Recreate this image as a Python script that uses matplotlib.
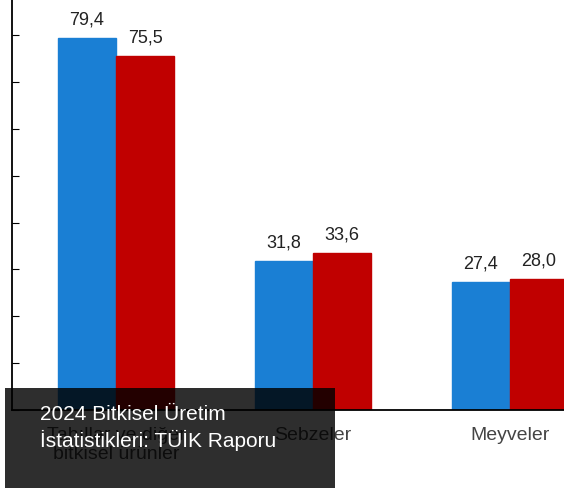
import matplotlib
matplotlib.use("Agg")
import matplotlib.pyplot as plt
import numpy as np
from matplotlib.patches import Rectangle

plt.rcParams['font.family'] = ['Liberation Sans', 'DejaVu Sans']

categories = ["Tahıllar ve diğer\nbitkisel ürünler", "Sebzeler", "Meyveler"]
series_a = [79.4, 31.8, 27.4]
series_b = [75.5, 33.6, 28.0]
labels_a = ["79,4", "31,8", "27,4"]
labels_b = ["75,5", "33,6", "28,0"]

W, H = 564, 488
fig = plt.figure(figsize=(W/100, H/100), dpi=100)
ax = fig.add_axes([12/W, 78/H, 1 - 12/W, 410/H])
x = np.arange(len(categories))
w = 0.295
ax.bar(x - w/2, series_a, w, color="#1a7fd4", edgecolor="#1a7fd4")
ax.bar(x + w/2, series_b, w, color="#c00000", edgecolor="#c00000")
for i in range(len(x)):
    ax.text(x[i] - w/2, series_a[i] + 2, labels_a[i], ha="center", va="bottom", fontsize=13, color="#222")
    ax.text(x[i] + w/2, series_b[i] + 2, labels_b[i], ha="center", va="bottom", fontsize=13, color="#222")
ax.set_xlim(-0.528, 2.274)
ax.set_ylim(0, 87.5)
ax.set_yticks(np.arange(0, 90, 10))
ax.set_yticklabels([])
ax.set_xticks(x)
ax.set_xticklabels(categories, fontsize=14, color="#444")
ax.tick_params(axis="x", length=0, pad=12)
ax.tick_params(axis="y", direction="in", length=5)
for s in ["top", "right"]:
    ax.spines[s].set_visible(False)
ax.spines["left"].set_linewidth(1.3)
ax.spines["bottom"].set_linewidth(1.3)

fig.patches.append(Rectangle((5/W, 0), 330/W, 100/H, transform=fig.transFigure,
                             facecolor=(0, 0, 0), alpha=0.82, zorder=10))
fig.text(40/W, 1 - 428/H, "2024 Bitkisel Üretim\nİstatistikleri: TÜİK Raporu",
         color="white", fontsize=15, va="center", ha="left", linespacing=1.3, zorder=11)
fig.savefig("out.png", dpi=100)
